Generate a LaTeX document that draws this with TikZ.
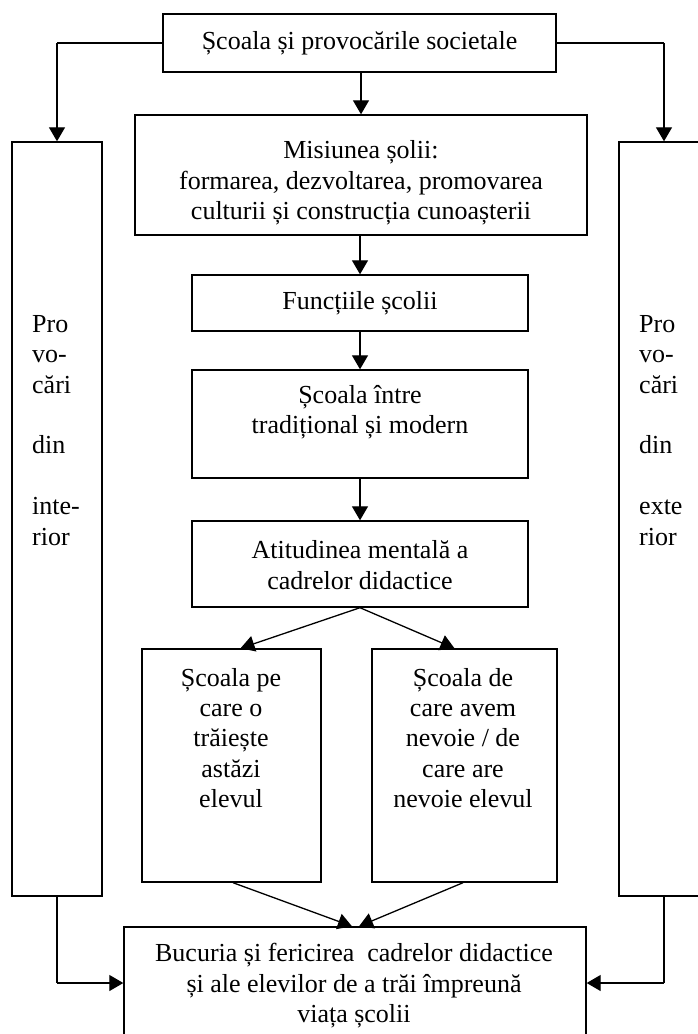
\documentclass[tikz,border=0pt]{standalone}
\usepackage{fontspec}
\setmainfont{Liberation Serif}
\usetikzlibrary{arrows.meta,calc}
\begin{document}
\begin{tikzpicture}[x=1pt,y=-1pt,
  bx/.style={draw, line width=1.4pt, inner sep=0pt, fill=white},
  txt/.style={inner sep=0pt, align=center, font=\fontsize{26}{30.4}\selectfont},
  side/.style={inner sep=0pt, align=left, anchor=north west, font=\fontsize{26}{30.4}\selectfont},
  arr/.style={line width=1.3pt, -{Triangle[length=14pt,width=16pt]}},
  ln/.style={line width=1.3pt}
]
\useasboundingbox (0,0) rectangle (698,1034);
\clip (0,0) rectangle (698,1034);
% boxes
\node[bx, minimum width=393pt, minimum height=58pt] (top) at (359.5,43) {};
\node[bx, minimum width=452pt, minimum height=120pt] (mis) at (361,175) {};
\node[bx, minimum width=336pt, minimum height=56pt] (fun) at (360,303) {};
\node[bx, minimum width=336pt, minimum height=108pt] (trad) at (360,424) {};
\node[bx, minimum width=336pt, minimum height=86pt] (atit) at (360,564) {};
\node[bx, minimum width=179pt, minimum height=233pt] (azi) at (231.5,765.5) {};
\node[bx, minimum width=185pt, minimum height=233pt] (nev) at (464.5,765.5) {};
\node[bx, minimum width=462pt, minimum height=140pt] (bot) at (355,997) {};
\node[bx, minimum width=90pt, minimum height=754pt] (lcol) at (57,519) {};
\node[bx, minimum width=90pt, minimum height=754pt] (rcol) at (664,519) {};
% texts
\node[txt] (ttop) at (top) {Școala și provocările societale};
\node[txt] (tmis) at (361,183) {Misiunea șolii:\\formarea, dezvoltarea, promovarea\\culturii și construcția cunoașterii};
\node[txt] (tfun) at (fun) {Funcțiile școlii};
\node[txt] (ttrad) at (360,412) {Școala între\\tradițional și modern};
\node[txt] (tatit) at (360,565) {Atitudinea mentală a\\cadrelor didactice};
\node[txt] (tazi) at (231,738) {Școala pe\\care o\\trăiește\\astăzi\\elevul};
\node[txt] (tnev) at (463,738) {Școala de\\care avem\\nevoie / de\\care are\\nevoie elevul};
\node[txt] (tbot) at (354,986) {Bucuria și fericirea\ \ cadrelor didactice\\și ale elevilor de a trăi împreună\\viața școlii};
\node[side] (tl) at (32,315) {Pro\\vo-\\cări\\[30.4pt]din\\[30.4pt]inte-\\rior};
\node[side] (tr) at (639,315) {Pro\\vo-\\cări\\[30.4pt]din\\[30.4pt]exte\\rior};
% connectors
\coordinate (tl0) at (lcol.north |- top.west);
\coordinate (tr0) at (rcol.north |- top.east);
\draw[ln] (top.west) -- (tl0);
\draw[arr] (tl0) -- (lcol.north);
\draw[ln] (top.east) -- (tr0);
\draw[arr] (tr0) -- (rcol.north);
\draw[arr] (top.south -| mis.north) -- (mis.north);
\draw[arr] (mis.south -| fun.north) -- (fun.north);
\draw[arr] (fun.south) -- (trad.north);
\draw[arr] (trad.south) -- (atit.north);
\draw[arr] (atit.south) -- ($(azi.north)+(9,0)$);
\draw[arr] (atit.south) -- ($(nev.north)+(-10,0)$);
\draw[arr] ($(azi.south)+(1.5,0)$) -- ($(bot.north)+(-3,0)$);
\draw[arr] ($(nev.south)+(-1.5,0)$) -- ($(bot.north)+(4,0)$);
\coordinate (bl0) at (lcol.south |- 0,983);
\coordinate (br0) at (rcol.south |- 0,983);
\draw[ln] (lcol.south) -- (bl0);
\draw[arr] (bl0) -- (bot.west |- bl0);
\draw[ln] (rcol.south) -- (br0);
\draw[arr] (br0) -- (bot.east |- br0);
\end{tikzpicture}
\end{document}
